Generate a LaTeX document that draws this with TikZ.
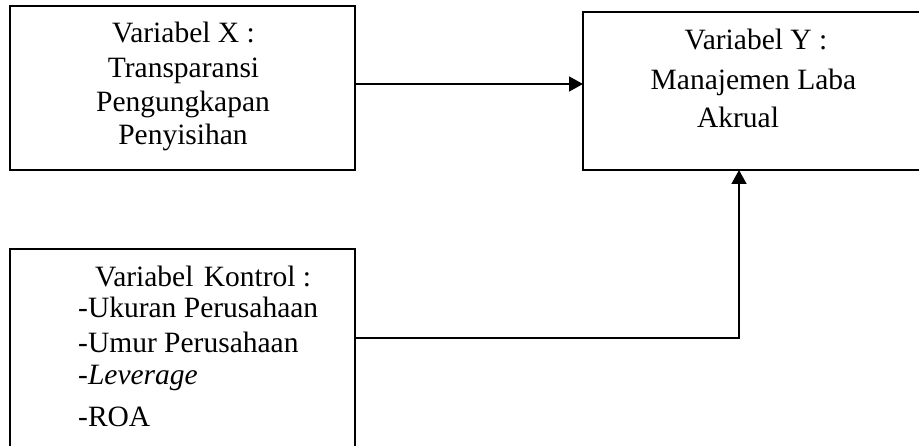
\documentclass[tikz,border=0pt]{standalone}
\usepackage{fontspec}
\setmainfont{Liberation Serif}
\usetikzlibrary{arrows.meta}
\begin{document}
\begin{tikzpicture}[x=1pt,y=-1pt,
  box/.style={draw,line width=1.5pt,inner sep=0pt,outer sep=0pt,anchor=north west},
  txt/.style={inner sep=0pt,font=\fontsize{29.5}{34}\selectfont},
  arr/.style={line width=1.5pt,-{Triangle[length=14pt,width=15pt]}}]
\useasboundingbox (0,0) rectangle (919,446);
\clip (0,0) rectangle (919,446);
% boxes
\node[box,minimum width=345pt,minimum height=164pt] (bx) at (10,6) {};
\node[box,minimum width=347pt,minimum height=158pt] (by) at (583,12) {};
\node[box,minimum width=345pt,minimum height=212pt] (bk) at (10,249) {};
% box X text
\node[txt,anchor=base] (x1) at (183.5,43) {Variabel X :};
\node[txt,anchor=base] (x2) at (183.5,78) {Transparansi};
\node[txt,anchor=base] (x3) at (183,112) {Pengungkapan};
\node[txt,anchor=base] (x4) at (183,145) {Penyisihan};
% box Y text
\node[txt,anchor=base] (y1) at (756,50) {Variabel Y :};
\node[txt,anchor=base] (y2) at (753.5,90) {Manajemen Laba};
\node[txt,anchor=base] (y3) at (738,128) {Akrual};
% control text
\node[txt,anchor=base west] (k1) at (95,287) {Variabel\hspace{3pt} Kontrol :};
\node[txt,anchor=base west] (k2) at (78,318) {-Ukuran Perusahaan};
\node[txt,anchor=base west] (k3) at (78,353) {-Umur Perusahaan};
\node[txt,anchor=base west] (k4) at (78,385) {-\textit{Leverage}};
\node[txt,anchor=base west] (k5) at (78,427) {-ROA};
% connectors
\coordinate (a1) at (355,84);
\coordinate (bend) at (739,338);
\draw[arr] (bx.east |- a1) -- (by.west |- a1);
\draw[arr] (bk.east |- bend) -| (by.south -| bend);
\end{tikzpicture}
\end{document}
